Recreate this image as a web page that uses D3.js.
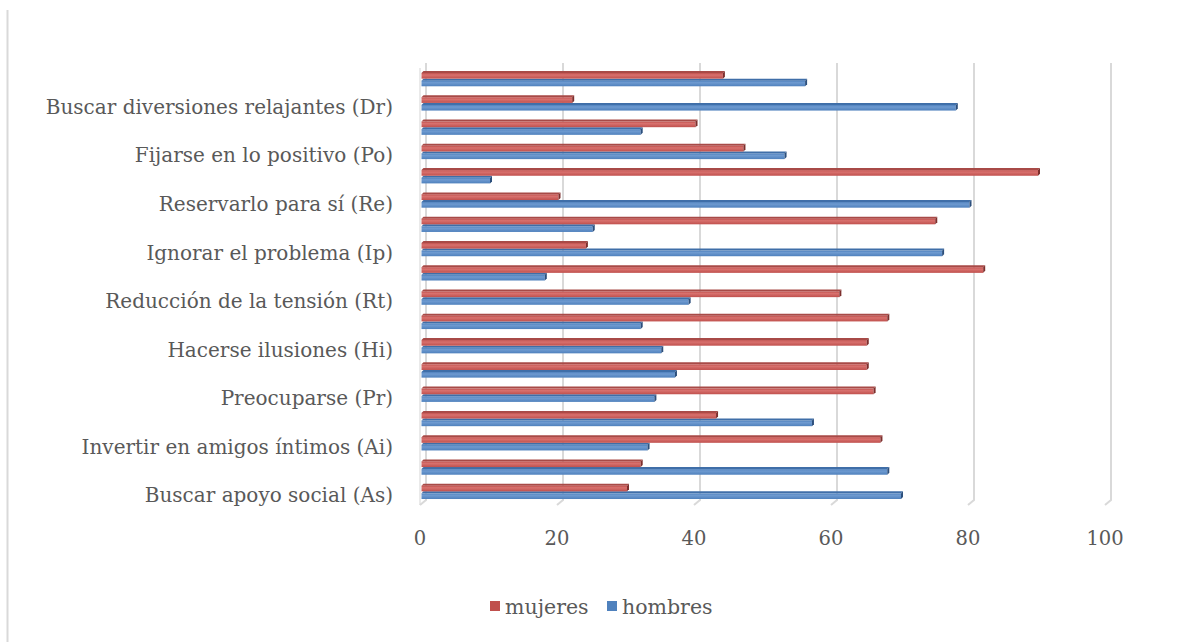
<!DOCTYPE html>
<html>
<head>
<meta charset="utf-8">
<script src="https://cdn.jsdelivr.net/npm/d3@7"></script>
<style>
  html, body { margin: 0; padding: 0; background: #ffffff; }
  svg { display: block; }
  text { font-family: "DejaVu Serif", "Liberation Serif", serif; fill: #595959; }
</style>
</head>
<body>
<svg id="chart" width="1180" height="642"></svg>
<script>
// Coping strategies, listed from the top of the chart downwards
const categories = [
  "Distracción física (Fi)",
  "Buscar diversiones relajantes (Dr)",
  "Buscar ayuda profesional (Ap)",
  "Fijarse en lo positivo (Po)",
  "Buscar apoyo espiritual (Ae)",
  "Reservarlo para sí (Re)",
  "Autoinculparse (Cu)",
  "Ignorar el problema (Ip)",
  "Acción social (So)",
  "Reducción de la tensión (Rt)",
  "Falta de afrontamiento (Na)",
  "Hacerse ilusiones (Hi)",
  "Buscar pertenencia (Pe)",
  "Preocuparse (Pr)",
  "Esforzarse y tener éxito (Es)",
  "Invertir en amigos íntimos (Ai)",
  "Concentrarse en resolver el problema (Rp)",
  "Buscar apoyo social (As)"
];
// Only every second category name is printed on the axis
const shownLabels = [
  "Buscar diversiones relajantes (Dr)",
  "Fijarse en lo positivo (Po)",
  "Reservarlo para sí (Re)",
  "Ignorar el problema (Ip)",
  "Reducción de la tensión (Rt)",
  "Hacerse ilusiones (Hi)",
  "Preocuparse (Pr)",
  "Invertir en amigos íntimos (Ai)",
  "Buscar apoyo social (As)"
];
const seriesNames = ["mujeres", "hombres"];
const mujeres = [44, 22, 40, 47, 90, 20, 75, 24, 82, 61, 68, 65, 65, 66, 43, 67, 32, 30];
const hombres = [56, 78, 32, 53, 10, 80, 25, 76, 18, 39, 32, 35, 37, 34, 57, 33, 68, 70];
const xTicks = [0, 20, 40, 60, 80, 100];

const svg = d3.select("#chart");

// 3D depth offset of the floor / walls
const DX = 6, DY = 5;
// Back wall scale (gridlines) and front floor edge (tick labels)
const xBack = d3.scaleLinear().domain([0, 100]).range([426, 1111]);
const xFront = d3.scaleLinear().domain([0, 100]).range([426 - DX, 1111 - DX]);
// Bars sit half-way in depth
const xBar = d3.scaleLinear().domain([0, 100]).range([421.5, 1106.5]);
const backTop = 63, backBottom = 500;

const y = d3.scaleBand().domain(categories).range([66.5, 503.5]).paddingInner(0.37).paddingOuter(0.185);
const ySub = d3.scaleBand().domain(seriesNames).range([0, y.bandwidth()]);

// Outer chart frame (left edge)
svg.append("line").attr("x1", 7.5).attr("x2", 7.5).attr("y1", 10).attr("y2", 642)
  .attr("stroke", "#d9d9d9").attr("stroke-width", 2);

// Left wall front edge
svg.append("line").attr("x1", 420).attr("x2", 420).attr("y1", backTop + DY).attr("y2", backBottom + DY)
  .attr("stroke", "#e3e3e3").attr("stroke-width", 1.5);

// Gridlines on the back wall with their floor feet
const grid = svg.append("g");
xTicks.forEach(t => {
  const xb = xBack(t);
  grid.append("path")
    .attr("d", `M${xb},${backTop} L${xb},${backBottom} L${xb - DX},${backBottom + DY}`)
    .attr("fill", "none").attr("stroke", "#d9d9d9").attr("stroke-width", 2);
});

// Bar colours: front face, top face, end face
const colors = {
  mujeres: { front: "#c0504d", light: "#d8716e", top: "#a84a47", end: "#7d2f2d" },
  hombres: { front: "#4f81bd", light: "#6e9ad0", top: "#3f6ea8", end: "#2c4f7c" }
};

const defs = svg.append("defs");
seriesNames.forEach(s => {
  const g = defs.append("linearGradient").attr("id", "grad-" + s)
    .attr("x1", 0).attr("x2", 0).attr("y1", 0).attr("y2", 1);
  g.append("stop").attr("offset", "0%").attr("stop-color", colors[s].front);
  g.append("stop").attr("offset", "35%").attr("stop-color", colors[s].light);
  g.append("stop").attr("offset", "100%").attr("stop-color", colors[s].front);
});

const TD = 2; // depth of the bar prisms
const rows = categories.map((c, i) => ({ cat: c, mujeres: mujeres[i], hombres: hombres[i] }));

const bars = svg.append("g");
// Draw the lower series first so the upper bar's faces stay on top
["hombres", "mujeres"].forEach(s => {
  rows.forEach(d => {
    const x0 = xBar(0), x1 = xBar(d[s]);
    const yt = y(d.cat) + ySub(s) + TD;
    const h = ySub.bandwidth() - TD;
    const g = bars.append("g");
    // top face
    g.append("path")
      .attr("d", `M${x0},${yt} L${x1},${yt} L${x1 + TD},${yt - TD} L${x0 + TD},${yt - TD} Z`)
      .attr("fill", colors[s].top);
    // front face
    g.append("rect").attr("x", x0).attr("y", yt).attr("width", x1 - x0).attr("height", h)
      .attr("fill", `url(#grad-${s})`);
    // end face
    g.append("path")
      .attr("d", `M${x1},${yt} L${x1 + TD},${yt - TD} L${x1 + TD},${yt + h - TD} L${x1},${yt + h} Z`)
      .attr("fill", colors[s].end);
  });
});

// Category labels
const labels = svg.append("g");
categories.forEach(c => {
  if (!shownLabels.includes(c)) return;
  labels.append("text")
    .attr("x", 393)
    .attr("y", y(c) + y.bandwidth() / 2 + 4)
    .attr("dy", "0.35em")
    .attr("text-anchor", "end")
    .attr("font-size", 20)
    .text(c);
});

// Value axis labels along the front floor edge
const xAxis = svg.append("g");
xTicks.forEach(t => {
  xAxis.append("text")
    .attr("x", xFront(t))
    .attr("y", 545)
    .attr("text-anchor", "middle")
    .attr("font-size", 19.5)
    .text(t);
});

// Legend
const legend = svg.append("g");
const legendItems = [
  { name: "mujeres", x: 490 },
  { name: "hombres", x: 607 }
];
legendItems.forEach(it => {
  legend.append("rect").attr("x", it.x).attr("y", 601).attr("width", 10).attr("height", 10)
    .attr("fill", colors[it.name].front);
  legend.append("text").attr("x", it.x + 15).attr("y", 614)
    .attr("font-size", 20.5).text(it.name);
});
</script>
</body>
</html>
